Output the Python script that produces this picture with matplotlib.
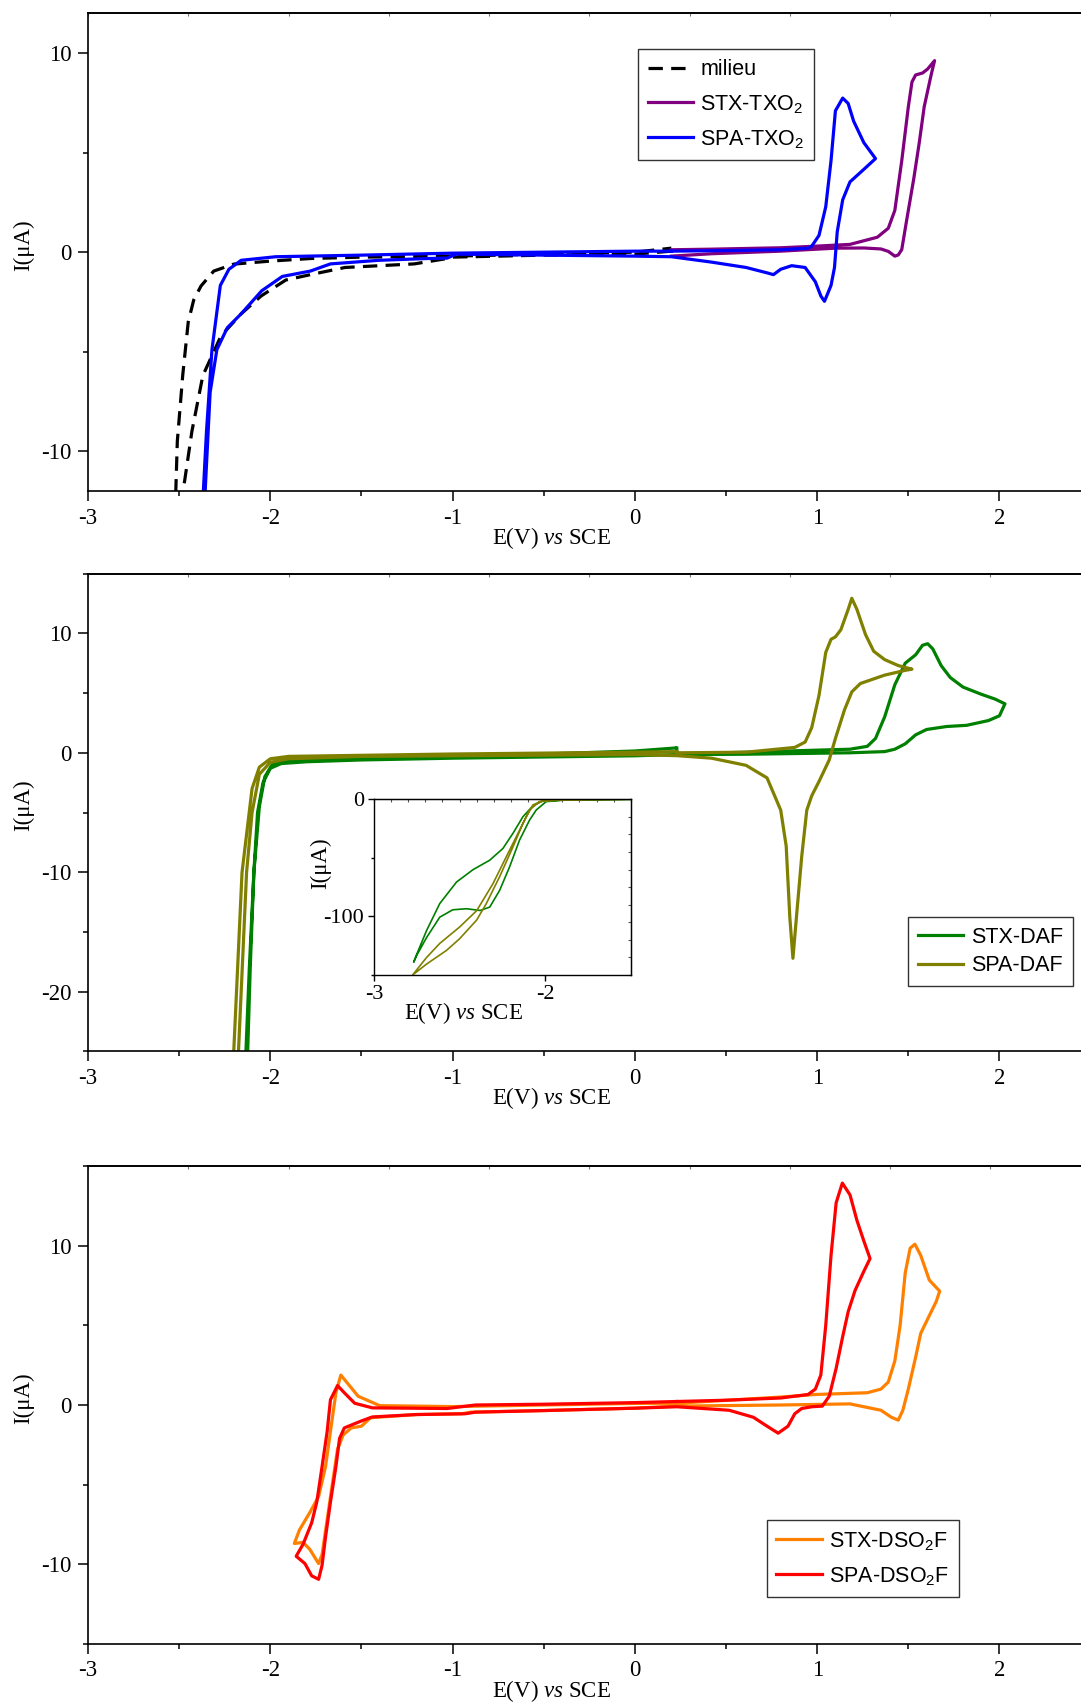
import numpy as np
import matplotlib
matplotlib.use('Agg')
import matplotlib.pyplot as plt
from matplotlib.ticker import MultipleLocator

plt.rcParams['font.family'] = 'Liberation Serif'
plt.rcParams['mathtext.fontset'] = 'custom'
plt.rcParams['mathtext.rm'] = 'Liberation Sans'
plt.rcParams['mathtext.it'] = 'Liberation Serif:italic'
plt.rcParams['axes.unicode_minus'] = False
plt.rcParams['lines.solid_joinstyle'] = 'round'
plt.rcParams['lines.dash_joinstyle'] = 'round'

# ---- panel 1 : TXO2 ----
MILIEU_E = [0.20, 0.0, -0.5, -1.0, -1.03, -1.21, -1.59, -1.78, -1.915, -2.05, -2.16, -2.27, -2.37, -2.43, -2.47, -2.49,
            -2.52, -2.51, -2.48, -2.45, -2.42, -2.38, -2.31, -2.20, -2.0, -1.78, -1.5, -1.0, -0.5, 0.0, 0.2]
MILIEU_I = [0.05, -0.1, -0.15, -0.25, -0.32, -0.59, -0.77, -1.13, -1.4, -2.2, -3.1, -4.2, -6.2, -9.0, -11.5, -12.5,
            -12.5, -9.5, -6.15, -3.5, -2.4, -1.7, -0.95, -0.6, -0.45, -0.32, -0.25, -0.2, -0.1, 0.0, 0.2]

STX_TXO2_E = [0.20, 0.42, 0.8, 0.99, 1.18, 1.33, 1.39, 1.426, 1.464, 1.50, 1.52, 1.54, 1.578, 1.606, 1.644,
              1.625, 1.587, 1.56, 1.53, 1.49, 1.464, 1.445, 1.426, 1.39, 1.35, 1.256, 1.10, 0.8, 0.42, 0.2]
STX_TXO2_I = [0.12, 0.15, 0.22, 0.3, 0.39, 0.75, 1.2, 2.1, 4.6, 7.3, 8.55, 8.9, 9.0, 9.2, 9.62,
              8.9, 7.3, 5.5, 3.7, 1.56, 0.13, -0.14, -0.2, 0.04, 0.16, 0.21, 0.2, 0.05, -0.08, -0.2]

SPA_TXO2_E = [0.20, 0.5, 0.8, 0.95, 0.97, 1.01, 1.047, 1.076, 1.10, 1.14, 1.17, 1.20, 1.256, 1.32,
              1.256, 1.18, 1.14, 1.11, 1.095, 1.076, 1.04, 1.02, 0.99, 0.934, 0.86, 0.80, 0.76, 0.725, 0.61, 0.42,
              0.2, 0.0, -0.5, -0.98, -1.03, -1.14, -1.405, -1.67, -1.78, -1.934, -2.047, -2.16, -2.236, -2.293,
              -2.33, -2.36, -2.37, -2.35, -2.32, -2.274, -2.227, -2.16, -1.97, -1.5, -1.0, -0.5, 0.0, 0.2]
SPA_TXO2_I = [0.05, 0.08, 0.12, 0.2, 0.3, 0.84, 2.28, 4.6, 7.1, 7.74, 7.47, 6.58, 5.5, 4.7,
              4.16, 3.53, 2.63, 1.02, -0.77, -1.67, -2.47, -2.2, -1.49, -0.77, -0.68, -0.86, -1.13, -1.04, -0.77, -0.5,
              -0.23, -0.2, -0.15, -0.1, -0.3, -0.32, -0.41, -0.59, -0.95, -1.22, -1.94, -3.1, -3.8, -4.9,
              -7.04, -12.5, -12.5, -9.0, -4.9, -1.67, -0.86, -0.41, -0.23, -0.15, -0.05, 0.0, 0.05, 0.05]

# ---- panel 2 : DAF ----
STX_DAF_E = [0.23, 0.23, 0.61, 1.18, 1.275, 1.32, 1.37, 1.426, 1.483, 1.54, 1.578, 1.606, 1.634, 1.68, 1.73, 1.80,
             1.90, 1.975, 2.03, 2.0, 1.94, 1.82, 1.71, 1.6, 1.54, 1.483, 1.426, 1.37, 1.18, 0.61, 0.23, 0.0, -0.5,
             -1.0, -1.5, -1.8, -1.94, -2.0, -2.04, -2.07, -2.09, -2.11, -2.125, -2.135, -2.115, -2.09, -2.06,
             -2.03, -1.99, -1.9, -1.5, -1.0, -0.5, 0.0, 0.22]
STX_DAF_I = [0.4, -0.1, 0.05, 0.3, 0.54, 1.2, 3.0, 5.7, 7.5, 8.2, 9.0, 9.13, 8.7, 7.3, 6.3, 5.5,
             4.9, 4.5, 4.1, 3.1, 2.7, 2.3, 2.2, 1.95, 1.5, 0.75, 0.3, 0.1, 0.0, -0.12, -0.15, -0.25, -0.35,
             -0.45, -0.6, -0.75, -0.9, -1.3, -2.5, -5.0, -10.0, -18.0, -25.5, -25.5, -18.0, -10.0, -4.5,
             -2.0, -1.0, -0.65, -0.45, -0.3, -0.1, 0.15, 0.4]

SPA_DAF_E = [0.23, 0.61, 0.877, 0.934, 0.97, 1.01, 1.047, 1.076, 1.10, 1.13, 1.17, 1.19, 1.218, 1.265, 1.31, 1.37,
             1.445, 1.52, 1.483, 1.37, 1.237, 1.19, 1.15, 1.10, 1.066, 1.01, 0.97, 0.943, 0.915, 0.886, 0.867,
             0.85, 0.83, 0.80, 0.725, 0.61, 0.42, 0.23, 0.0, -0.5, -1.0, -1.5, -1.9, -2.0, -2.06, -2.1, -2.13,
             -2.176, -2.202, -2.155, -2.1, -2.06, -2.0, -1.9, -1.0, 0.0, 0.23]
SPA_DAF_I = [0.0, 0.05, 0.45, 0.9, 2.1, 4.8, 8.4, 9.5, 9.7, 10.3, 12.0, 12.93, 12.0, 9.9, 8.5, 7.8,
             7.3, 7.0, 6.9, 6.5, 5.8, 5.1, 3.6, 1.2, -0.6, -2.4, -3.6, -4.8, -8.7, -13.8, -17.2,
             -13.8, -7.8, -4.8, -2.1, -1.05, -0.45, -0.24, -0.15, -0.2, -0.25, -0.3, -0.5, -0.8, -1.8, -5.0, -10.0,
             -25.5, -25.5, -10.0, -3.0, -1.2, -0.5, -0.3, -0.1, 0.05, 0.1]

# inset (reduction wave, full current scale)
STX_DAF_IN_E = [-1.5, -1.878, -1.994, -2.052, -2.091, -2.15, -2.208, -2.266, -2.324, -2.38, -2.46, -2.54, -2.616,
                -2.693, -2.75, -2.768, -2.761, -2.693, -2.616, -2.518, -2.421, -2.324, -2.247, -2.188, -2.13,
                -2.072, -2.014, -1.878, -1.5]
STX_DAF_IN_I = [0, -0.6, -2.0, -9.1, -17.7, -34.9, -57.7, -77.7, -92, -94.9, -93.4, -94.3, -100.6,
                -118, -133, -139, -136, -112, -89, -70.6, -60, -52, -42, -29, -14.9,
                -5.7, -1.4, -0.6, 0]
SPA_DAF_IN_E = [-1.5, -1.9, -2.033, -2.091, -2.13, -2.188, -2.266, -2.344, -2.40, -2.5, -2.577, -2.693, -2.775,
                -2.693, -2.616, -2.5, -2.40, -2.305, -2.227, -2.169, -2.11, -2.072, -2.014, -1.9, -1.5]
SPA_DAF_IN_I = [0, -0.5, -2.0, -9.1, -20.6, -40.6, -66, -89, -103, -119, -129, -140.6, -150,
                -135, -123, -109, -95, -72, -49, -32, -14.9, -4.9, -1.1, -0.3, 0]

# ---- panel 3 : DSO2F ----
STX_DSO2F_E = [0.23, 0.80, 0.99, 1.275, 1.35, 1.39, 1.426, 1.455, 1.483, 1.51, 1.536, 1.568, 1.615, 1.672,
               1.653, 1.606, 1.568, 1.54, 1.50, 1.47, 1.445, 1.407, 1.35, 1.18, 0.80, 0.23, 0.0, -0.5, -0.9, -0.95,
               -1.2, -1.45, -1.5, -1.556, -1.6, -1.631, -1.66, -1.688, -1.716, -1.735, -1.783, -1.82, -1.868,
               -1.84, -1.783, -1.735, -1.697, -1.67, -1.64, -1.613, -1.518, -1.4, -1.0, -0.5, 0.0, 0.23]
STX_DSO2F_I = [0.11, 0.5, 0.66, 0.77, 1.0, 1.44, 2.77, 5.0, 8.3, 9.85, 10.1, 9.4, 7.85, 7.15,
               6.5, 5.4, 4.5, 3.0, 1.0, -0.33, -0.95, -0.77, -0.33, 0.07, 0.0, -0.07, -0.2, -0.35, -0.45, -0.55,
               -0.6, -0.8, -1.33, -1.44, -1.88, -2.77, -5.0, -7.2, -9.4, -9.96, -9.07, -8.63, -8.7,
               -7.85, -6.75, -5.75, -3.87, -1.66, 0.77, 1.88, 0.55, -0.04, -0.1, 0.0, 0.1, 0.11]

SPA_DSO2F_E = [0.23, 0.50, 0.80, 0.95, 0.99, 1.02, 1.047, 1.076, 1.104, 1.138, 1.18, 1.218, 1.256, 1.29,
               1.256, 1.208, 1.17, 1.14, 1.104, 1.066, 1.028, 0.97, 0.915, 0.877, 0.84, 0.786, 0.725, 0.65, 0.517,
               0.23, 0.0, -0.5, -0.875, -0.93, -1.2, -1.44, -1.5, -1.594, -1.62, -1.64, -1.67, -1.697, -1.716,
               -1.735, -1.773, -1.81, -1.858, -1.82, -1.773, -1.745, -1.716, -1.688, -1.67, -1.631, -1.594,
               -1.537, -1.44, -1.03, -0.875, -0.5, 0.0, 0.23]
SPA_DSO2F_I = [0.22, 0.3, 0.44, 0.66, 1.0, 1.88, 5.0, 9.4, 12.7, 13.94, 13.2, 11.6, 10.3, 9.2,
               8.4, 7.2, 5.86, 4.3, 2.3, 0.55, -0.07, -0.11, -0.22, -0.55, -1.33, -1.77, -1.33, -0.77, -0.33,
               -0.11, -0.2, -0.35, -0.45, -0.55, -0.6, -0.75, -1.0, -1.44, -2.1, -3.87, -6.1, -8.3, -10.07,
               -10.95, -10.73, -9.96, -9.5, -8.74, -7.4, -6.1, -3.87, -1.66, 0.33, 1.22, 0.77,
               0.11, -0.18, -0.22, 0.0, 0.05, 0.15, 0.22]

XLABEL = r'E(V) $\mathit{vs}$ SCE'
YLABEL = 'I(\u03bcA)'
LW = 2.3


def style_axis(ax, ylim, yticks):
    ax.set_xlim(-3, 2.5)
    ax.set_ylim(*ylim)
    ax.set_xticks([-3, -2, -1, 0, 1, 2])
    ax.set_yticks(yticks)
    ax.xaxis.set_minor_locator(MultipleLocator(0.5))
    ax.yaxis.set_minor_locator(MultipleLocator(5))
    ax.tick_params(which='major', length=7, width=1.1, labelsize=16.5, direction='out', pad=5)
    ax.tick_params(which='minor', length=3.5, width=1.1, direction='out')
    for s in ['left', 'bottom', 'top']:
        ax.spines[s].set_linewidth(1.2)
    ax.spines['right'].set_visible(False)
    top = ax.secondary_xaxis('top')
    top.set_xticks(np.arange(-3, 2.51, 0.55))
    top.set_xticklabels([])
    top.tick_params(length=2, width=0.8, direction='in', color='#777777')
    top.spines['top'].set_linewidth(1.2)
    ax.set_xlabel(XLABEL, fontsize=16.5)
    ax.set_ylabel(YLABEL, fontsize=16.5)
    ax.xaxis.set_label_coords(0.4625, -0.071)
    ax.yaxis.set_label_coords(-0.054, 0.515)


def legend(ax, anchor, spacing):
    leg = ax.legend(loc='upper left', bbox_to_anchor=anchor, bbox_transform=ax.figure.transFigure,
                    prop={'family': 'Liberation Sans', 'size': 15.5}, frameon=True, fancybox=False,
                    edgecolor='#333333', framealpha=1, borderaxespad=0, borderpad=0.45,
                    handlelength=2.1, handletextpad=0.35, labelspacing=spacing)
    leg.get_frame().set_linewidth(1.0)


fig = plt.figure(figsize=(10.81, 17.02), dpi=100)

ax1 = fig.add_axes([0.0814, 0.7115, 0.9275, 0.2807])
ax1.plot(MILIEU_E, MILIEU_I, color='black', lw=LW, ls=(0, (4.5, 2.6)), label='milieu')
ax1.plot(STX_TXO2_E, STX_TXO2_I, color='#800080', lw=LW, label='STX-TXO$_\\mathregular{2}$')
ax1.plot(SPA_TXO2_E, SPA_TXO2_I, color='#0000ff', lw=LW, label='SPA-TXO$_\\mathregular{2}$')
style_axis(ax1, (-12, 12), [-10, 0, 10])
legend(ax1, (0.5902, 0.9710), 0.6)

ax2 = fig.add_axes([0.0814, 0.3822, 0.9275, 0.2808])
ax2.plot(STX_DAF_E, STX_DAF_I, color='#008000', lw=LW, label='STX-DAF')
ax2.plot(SPA_DAF_E, SPA_DAF_I, color='#808000', lw=LW, label='SPA-DAF')
style_axis(ax2, (-25, 15), [-20, -10, 0, 10])
legend(ax2, (0.8404, 0.4612), 0.35)

ax_in = fig.add_axes([0.346, 0.4271, 0.2375, 0.1033])
ax_in.plot(STX_DAF_IN_E, STX_DAF_IN_I, color='#008000', lw=1.2)
ax_in.plot(SPA_DAF_IN_E, SPA_DAF_IN_I, color='#808000', lw=1.2)
ax_in.set_xlim(-3, -1.5)
ax_in.set_ylim(-150, 0)
ax_in.set_xticks([-3, -2])
ax_in.set_yticks([-100, 0])
ax_in.yaxis.set_minor_locator(MultipleLocator(50))
ax_in.tick_params(which='major', length=4, width=1, labelsize=16, pad=3)
ax_in.tick_params(which='minor', length=2.5, width=1)
for s in ax_in.spines.values():
    s.set_linewidth(1.0)
in_top = ax_in.secondary_xaxis('top')
in_top.set_xticks(np.arange(-3, -1.49, 0.1))
in_top.set_xticklabels([])
in_top.tick_params(length=2, width=0.8, direction='in', color='#555555')
in_right = ax_in.secondary_yaxis('right')
in_right.set_yticks(np.arange(-150, 1, 15))
in_right.set_yticklabels([])
in_right.tick_params(length=2, width=0.8, direction='in', color='#555555')
ax_in.set_xlabel(XLABEL, fontsize=16.5)
ax_in.set_ylabel(YLABEL, fontsize=16.5)
ax_in.xaxis.set_label_coords(0.348, -0.142)
ax_in.yaxis.set_label_coords(-0.165, 0.637)

ax3 = fig.add_axes([0.0814, 0.0342, 0.9275, 0.2806])
ax3.plot(STX_DSO2F_E, STX_DSO2F_I, color='#ff8000', lw=LW, label='STX-DSO$_\\mathregular{2}$F')
ax3.plot(SPA_DSO2F_E, SPA_DSO2F_I, color='#ff0000', lw=LW, label='SPA-DSO$_\\mathregular{2}$F')
style_axis(ax3, (-15, 15), [-10, 0, 10])
legend(ax3, (0.7092, 0.1068), 0.6)

fig.savefig('out.png', dpi=100)
